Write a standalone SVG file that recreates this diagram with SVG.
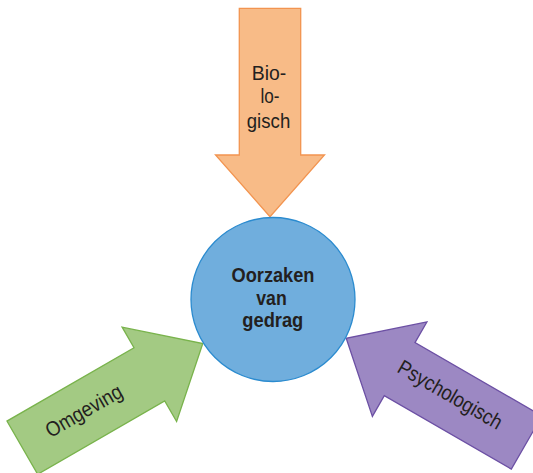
<svg xmlns="http://www.w3.org/2000/svg" width="533" height="473" viewBox="0 0 533 473">
<defs>
<style>
.lbl{font-family:"Liberation Sans",Arial,sans-serif;fill:#231F20;text-anchor:middle}
.arrow{stroke-width:1.3;stroke-linejoin:miter}
</style>
<path id="arrowShape" d="M239.3,8.3 H300.7 V155 H324.5 L270,216.7 L215.5,155 H239.3 Z"/>
</defs>
<rect width="533" height="473" fill="#FFFFFF"/>
<g id="connectors">
<g id="arrow-biologisch">
<use href="#arrowShape" class="arrow" fill="#F8BB87" stroke="#F29450"/>
<text class="lbl" font-size="21"><tspan x="269" y="79.5" textLength="34.5" lengthAdjust="spacingAndGlyphs">Bio-</tspan><tspan x="270" y="102.5" textLength="19" lengthAdjust="spacingAndGlyphs">lo-</tspan><tspan x="268.5" y="127.5" textLength="43.5" lengthAdjust="spacingAndGlyphs">gisch</tspan></text>
</g>
<g id="arrow-omgeving">
<use href="#arrowShape" class="arrow" fill="#A3CA83" stroke="#79B34C" transform="rotate(-120 273 299.5)"/>
<text class="lbl" font-size="21" transform="translate(87.4 417) rotate(-30)" x="0" y="0" textLength="85" lengthAdjust="spacingAndGlyphs">Omgeving</text>
</g>
<g id="arrow-psychologisch">
<use href="#arrowShape" class="arrow" fill="#9C88C3" stroke="#6C50A4" transform="rotate(120 273 299.5)"/>
<text class="lbl" font-size="21" transform="translate(446.7 400.8) rotate(30)" x="0" y="0" textLength="117" lengthAdjust="spacingAndGlyphs">Psychologisch</text>
</g>
</g>
<g id="node-oorzaken">
<circle cx="273" cy="299.5" r="82" fill="#70AEDD" stroke="#2B8BCF" stroke-width="1.3"/>
<text class="lbl" font-size="20.5" font-weight="bold"><tspan x="273" y="281.7" textLength="83" lengthAdjust="spacingAndGlyphs">Oorzaken</tspan><tspan x="271.5" y="305" textLength="30.5" lengthAdjust="spacingAndGlyphs">van</tspan><tspan x="272.8" y="327" textLength="61" lengthAdjust="spacingAndGlyphs">gedrag</tspan></text>
</g>
</svg>
